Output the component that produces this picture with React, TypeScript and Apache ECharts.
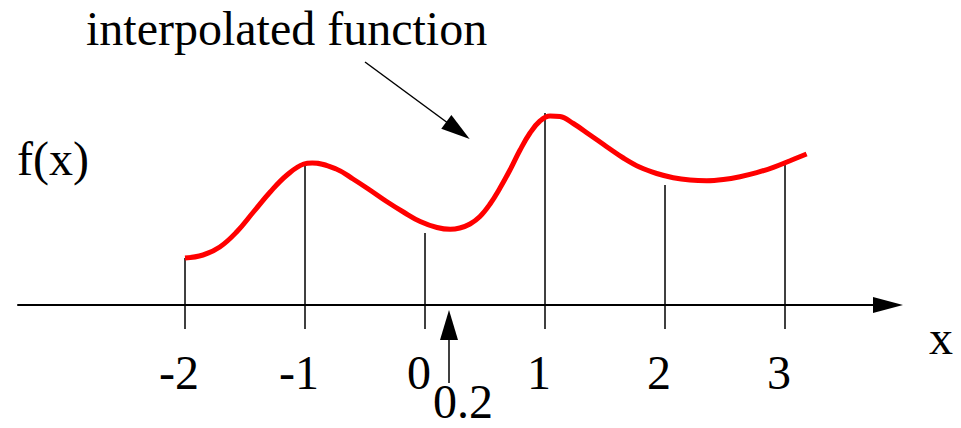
import React, { useEffect, useRef } from "react";
import * as echarts from "echarts";

// Sample points where the function is known (vertical stems)
const sampleX = [-2, -1, 0, 1, 2, 3];
const sampleY = [0.47, 1.4, 0.72, 1.92, 1.2, 1.44];
const tickLabels = ["-2", "-1", "0", "1", "2", "3"];

// Smooth interpolated function drawn through the samples
const curveX = [
  -2.0, -1.85, -1.71, -1.57, -1.43, -1.29, -1.15, -1.01, -0.94, -0.74, -0.6,
  -0.46, -0.32, -0.18, -0.04, 0.1, 0.21, 0.29, 0.375, 0.458, 0.542, 0.625,
  0.708, 0.792, 0.875, 0.958, 1.042, 1.125, 1.236, 1.375, 1.514, 1.653, 1.792,
  1.931, 2.069, 2.208, 2.347, 2.486, 2.625, 2.764, 2.903, 3.042, 3.18,
];
const curveY = [
  0.47, 0.5, 0.58, 0.73, 0.93, 1.13, 1.3, 1.41, 1.42, 1.36, 1.26, 1.15, 1.035,
  0.93, 0.835, 0.775, 0.757, 0.77, 0.81, 0.885, 1.01, 1.17, 1.35, 1.55, 1.72,
  1.84, 1.89, 1.885, 1.815, 1.7, 1.583, 1.47, 1.377, 1.315, 1.273, 1.25, 1.243,
  1.255, 1.283, 1.323, 1.377, 1.443, 1.51,
];

// Query point on the x axis
const queryX = 0.2;
const queryLabel = "0.2";
const queryArrowFromY = -0.78;
const queryArrowToY = -0.2;

// Pointer from the caption to the curve
const pointerFrom = [-0.5, 2.43];
const pointerTo = [0.275, 1.745];

const FONT = "Liberation Serif, Times New Roman, serif";

export default function App() {
  const ref = useRef<HTMLDivElement>(null);

  useEffect(() => {
    if (!ref.current) return;
    const chart = echarts.init(ref.current, null, { renderer: "svg" });

    chart.setOption({
      animation: false,
      backgroundColor: "#ffffff",
      grid: {
        left: 18,
        right: 73,
        top: 55,
        bottom: 3,
        outerBoundsMode: "none",
      },
      xAxis: {
        type: "value",
        min: -3.3917,
        max: 3.8583,
        splitLine: { show: false },
        axisLine: {
          onZero: true,
          symbol: ["none", "triangle"],
          symbolSize: [16, 30],
          lineStyle: { color: "#000", width: 2 },
        },
        axisTick: {
          show: true,
          customValues: sampleX,
          length: 24,
          lineStyle: { color: "#000", width: 1.5 },
        },
        axisLabel: { show: false },
      },
      yAxis: {
        type: "value",
        min: -1.2,
        max: 2.5,
        show: false,
      },
      graphic: [
        {
          type: "text",
          x: 86,
          y: 28.8,
          style: {
            text: "interpolated function",
            font: `48px ${FONT}`,
            fill: "#000",
            verticalAlign: "middle",
          },
        },
        {
          type: "text",
          x: 17,
          y: 158.8,
          style: {
            text: "f(x)",
            font: `48px ${FONT}`,
            fill: "#000",
            verticalAlign: "middle",
          },
        },
        {
          type: "text",
          x: 929,
          y: 337,
          style: {
            text: "x",
            font: `48px ${FONT}`,
            fill: "#000",
            verticalAlign: "middle",
          },
        },
      ],
      series: [
        {
          // stems from the axis up to each sample, with the tick value below
          type: "custom",
          z: 1,
          silent: true,
          clip: false,
          data: sampleX.map((x, i) => [x, sampleY[i]]),
          renderItem: (params: any, api: any) => {
            const top = api.coord([api.value(0), api.value(1)]);
            const base = api.coord([api.value(0), 0]);
            return {
              type: "group",
              children: [
                {
                  type: "line",
                  shape: { x1: top[0], y1: top[1], x2: base[0], y2: base[1] },
                  style: { stroke: "#000", lineWidth: 1.5 },
                },
                {
                  type: "text",
                  style: {
                    text: tickLabels[params.dataIndex],
                    x: base[0] - 6,
                    y: base[1] + 67,
                    font: `48px ${FONT}`,
                    lineHeight: 36,
                    fill: "#000",
                    align: "center",
                    verticalAlign: "middle",
                  },
                },
              ],
            };
          },
        },
        {
          type: "line",
          z: 3,
          silent: true,
          smooth: 0.4,
          symbol: "none",
          showSymbol: false,
          lineStyle: { color: "#ff0000", width: 5 },
          data: curveX.map((x, i) => [x, curveY[i]]),
          markLine: {
            silent: true,
            animation: false,
            symbol: ["none", "triangle"],
            lineStyle: { color: "#000", width: 1.5, type: "solid" },
            emphasis: { disabled: true },
            data: [
              [
                {
                  coord: [queryX, queryArrowFromY],
                  symbol: "none",
                  label: {
                    show: true,
                    position: "start",
                    distance: 0,
                    formatter: queryLabel,
                    fontFamily: FONT,
                    fontSize: 48,
                    lineHeight: 36,
                    padding: [0, 0, 0, 28],
                    color: "#000",
                  },
                },
                {
                  coord: [queryX, queryArrowToY],
                  symbol: "triangle",
                  symbolSize: [18, 30],
                },
              ],
              [
                {
                  coord: pointerFrom,
                  symbol: "none",
                  label: { show: false },
                },
                {
                  coord: pointerTo,
                  symbol: "triangle",
                  symbolSize: [17, 29],
                  label: { show: false },
                },
              ],
            ],
          },
        },
      ],
    });

    return () => chart.dispose();
  }, []);

  return (
    <div
      ref={ref}
      style={{
        position: "absolute",
        left: 0,
        top: 0,
        width: 961,
        height: 428,
        background: "#fff",
      }}
    />
  );
}
